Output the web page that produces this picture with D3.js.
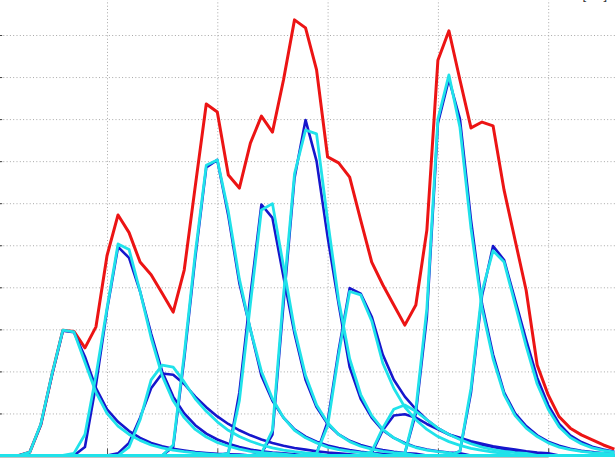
<!DOCTYPE html>
<html>
<head>
<meta charset="utf-8">
<script src="https://cdn.jsdelivr.net/npm/d3@7"></script>
<style>
  html, body { margin: 0; padding: 0; background: #fff; overflow: hidden; }
  svg { display: block; }
</style>
</head>
<body>
<script>
// samples every 0.1 on x, grid every 1 unit
const sampleStep = 0.1;
const xTicks = [1, 2, 3, 4, 5];
const yTicks = [1, 2, 3, 4, 5, 6, 7, 8, 9, 10];

// measured sum (red)
const red = [
  0, 0, 0, 0.08, 0.73, 1.91, 2.98, 2.95, 2.56, 3.06,
  4.75, 5.72, 5.3, 4.6, 4.3, 3.86, 3.41, 4.41, 6.4, 8.36,
  8.17, 6.67, 6.36, 7.43, 8.07, 7.69, 8.93, 10.36, 10.17, 9.17,
  7.1, 6.96, 6.62, 5.6, 4.6, 4.06, 3.58, 3.1, 3.58, 5.36,
  9.4, 10.1, 8.93, 7.79, 7.93, 7.84, 6.31, 5.12, 3.93, 2.15,
  1.44, 0.92, 0.65, 0.49, 0.37, 0.25, 0.15
];

// true components (blue): first sample index, then values (zero elsewhere)
const blueStart = [3, 8, 11, 16, 21, 24, 29, 34, 37, 42];
const blue1 = [0.08, 0.73, 1.9, 2.97, 2.93, 2.35, 1.6, 1.1, 0.8, 0.58, 0.42, 0.3, 0.22, 0.16, 0.12, 0.08, 0.06, 0.04, 0.03, 0.02];
const blue2 = [0.2, 1.68, 3.46, 4.96, 4.7, 3.9, 2.9, 2.0, 1.4, 1.0, 0.72, 0.52, 0.38, 0.28, 0.2, 0.14, 0.1, 0.07, 0.05, 0.03];
const blue3 = [0.05, 0.3, 0.9, 1.6, 1.95, 1.92, 1.7, 1.4, 1.15, 0.93, 0.75, 0.6, 0.48, 0.38, 0.3, 0.23, 0.18, 0.14, 0.1, 0.07, 0.05, 0.03];
const blue4 = [0.2, 2.3, 4.7, 6.85, 7.03, 5.7, 4.1, 3.0, 1.9, 1.3, 0.9, 0.62, 0.45, 0.33, 0.24, 0.18, 0.13, 0.09, 0.06, 0.04, 0.03];
const blue5 = [0.05, 1.5, 3.8, 5.97, 5.65, 4.25, 2.9, 1.8, 1.15, 0.75, 0.5, 0.35, 0.25, 0.18, 0.13, 0.09, 0.06, 0.04];
const blue6 = [0.05, 0.5, 3.6, 6.6, 7.98, 7.0, 5.2, 3.6, 2.1, 1.35, 0.9, 0.6, 0.42, 0.3, 0.2, 0.14, 0.1, 0.07, 0.05];
const blue7 = [0.05, 0.8, 2.5, 3.98, 3.85, 3.3, 2.4, 1.8, 1.4, 1.1, 0.85, 0.65, 0.5, 0.4, 0.32, 0.25, 0.2, 0.15, 0.11, 0.08, 0.05];
const blue8 = [0.05, 0.6, 0.95, 0.98, 0.9, 0.75, 0.62, 0.5, 0.42, 0.34, 0.28, 0.22, 0.18, 0.14, 0.1, 0.07, 0.05];
const blue9 = [0.05, 1.0, 3.3, 7.9, 8.95, 8.0, 5.6, 3.6, 2.4, 1.5, 1.0, 0.7, 0.48, 0.33, 0.23, 0.16, 0.11, 0.08, 0.05, 0.04];
const blue10 = [0.1, 1.5, 3.8, 4.98, 4.65, 3.7, 2.75, 1.85, 1.2, 0.75, 0.48, 0.32, 0.21, 0.14, 0.09];

// estimated components (cyan)
const cyanStart = [3, 7, 12, 16, 21, 24, 29, 34, 37, 42];
const cyan1 = [0.08, 0.75, 1.92, 2.98, 2.94, 2.22, 1.5, 1.0, 0.7, 0.5, 0.36, 0.25, 0.18, 0.13, 0.09, 0.06, 0.04, 0.02];
const cyan2 = [0.05, 0.5, 1.9, 3.5, 5.03, 4.9, 3.9, 2.8, 1.9, 1.3, 0.9, 0.62, 0.44, 0.31, 0.22, 0.15, 0.1, 0.07, 0.05, 0.03];
const cyan3 = [0.2, 0.85, 1.8, 2.15, 2.1, 1.75, 1.35, 1.05, 0.8, 0.6, 0.45, 0.34, 0.25, 0.18, 0.13, 0.09, 0.06, 0.04];
const cyan4 = [0.25, 2.4, 4.8, 6.9, 7.03, 5.8, 4.2, 3.0, 2.0, 1.35, 0.9, 0.6, 0.42, 0.3, 0.2, 0.14, 0.1, 0.07, 0.05];
const cyan5 = [0.05, 1.3, 3.6, 5.84, 5.99, 4.5, 3.0, 1.9, 1.2, 0.78, 0.5, 0.33, 0.22, 0.15, 0.1, 0.07, 0.05];
const cyan6 = [0.05, 0.6, 3.8, 6.7, 7.74, 7.65, 5.6, 3.7, 2.3, 1.45, 0.95, 0.62, 0.42, 0.28, 0.19, 0.13, 0.09, 0.06];
const cyan7 = [0.05, 0.7, 2.4, 3.9, 3.82, 3.2, 2.2, 1.6, 1.15, 0.85, 0.62, 0.45, 0.33, 0.24, 0.17, 0.12, 0.08, 0.05];
const cyan8 = [0.1, 0.65, 1.1, 1.2, 1.05, 0.85, 0.65, 0.5, 0.38, 0.28, 0.2, 0.14, 0.1, 0.07, 0.05];
const cyan9 = [0.05, 1.1, 3.5, 8.0, 9.05, 7.8, 5.4, 3.5, 2.3, 1.45, 0.95, 0.65, 0.45, 0.3, 0.2, 0.14, 0.1, 0.07, 0.05, 0.03];
const cyan10 = [0.1, 1.6, 3.9, 4.87, 4.6, 3.6, 2.6, 1.7, 1.1, 0.68, 0.43, 0.28, 0.18, 0.12, 0.08];

const blueParts = [blue1, blue2, blue3, blue4, blue5, blue6, blue7, blue8, blue9, blue10];
const cyanParts = [cyan1, cyan2, cyan3, cyan4, cyan5, cyan6, cyan7, cyan8, cyan9, cyan10];

const WIDTH = 615;
const HEIGHT = 461;
const N = red.length;

// place a component on the full sample grid (zeros outside its listed part)
function fullSeries(start, vals) {
  const out = new Array(N).fill(0);
  vals.forEach((v, i) => { if (start + i < N) out[start + i] = v; });
  return out;
}

// axes box is cropped: x = 0 sits just off the left edge
const xScale = d3.scaleLinear().domain([0, 5]).range([-3.3, 548.2]);
const yScale = d3.scaleLinear().domain([0, 10]).range([455.5, 35]);

const svg = d3.select("body").append("svg")
  .attr("width", WIDTH)
  .attr("height", HEIGHT);

// dotted grid
svg.append("g")
  .attr("transform", `translate(0,${yScale(0)})`)
  .call(d3.axisBottom(xScale).tickValues(xTicks).tickSize(-yScale(0) - 10).tickFormat(""))
  .call(g => g.select(".domain").remove())
  .call(g => g.selectAll("line").attr("stroke", "#a8a8a8").attr("stroke-dasharray", "1,2.3"));
svg.append("g")
  .attr("transform", `translate(${xScale(0)},0)`)
  .call(d3.axisLeft(yScale).tickValues(yTicks).tickSize(-WIDTH - 10).tickFormat(""))
  .call(g => g.select(".domain").remove())
  .call(g => g.selectAll("line").attr("stroke", "#a8a8a8").attr("stroke-dasharray", "1,2.3"));

// inward tick marks
svg.append("g")
  .attr("transform", `translate(${xScale(0)},0)`)
  .call(d3.axisLeft(yScale).tickValues(yTicks).tickSize(-5.5).tickFormat(""))
  .call(g => g.select(".domain").remove())
  .call(g => g.selectAll("line").attr("stroke", "#444"));
svg.append("g")
  .attr("transform", `translate(0,${yScale(0) + 1})`)
  .call(d3.axisBottom(xScale).tickValues(xTicks).tickSize(-8).tickFormat(""))
  .call(g => g.select(".domain").attr("stroke", "#888"))
  .call(g => g.selectAll("line").attr("stroke", "#555"));

// cut-off unit label at the top right
svg.append("text")
  .attr("x", 582.5)
  .attr("y", -0.6)
  .attr("font-family", "Liberation Sans, Arial, sans-serif")
  .attr("font-size", "13px")
  .attr("fill", "#333")
  .text("[ms]");

const line = d3.line()
  .x((d, i) => xScale(i * sampleStep))
  .y(d => yScale(d));

svg.append("path")
  .attr("d", line(red))
  .attr("fill", "none")
  .attr("stroke", "#ec1414")
  .attr("stroke-width", 3)
  .attr("stroke-linejoin", "round");

blueParts.forEach((vals, j) => {
  svg.append("path")
    .attr("d", line(fullSeries(blueStart[j], vals)))
    .attr("fill", "none")
    .attr("stroke", "#1616cc")
    .attr("stroke-width", 2.6)
    .attr("stroke-linejoin", "round");
});

cyanParts.forEach((vals, j) => {
  svg.append("path")
    .attr("d", line(fullSeries(cyanStart[j], vals)))
    .attr("fill", "none")
    .attr("stroke", "#20e2ea")
    .attr("stroke-width", 2.8)
    .attr("stroke-linejoin", "round");
});
</script>
</body>
</html>
